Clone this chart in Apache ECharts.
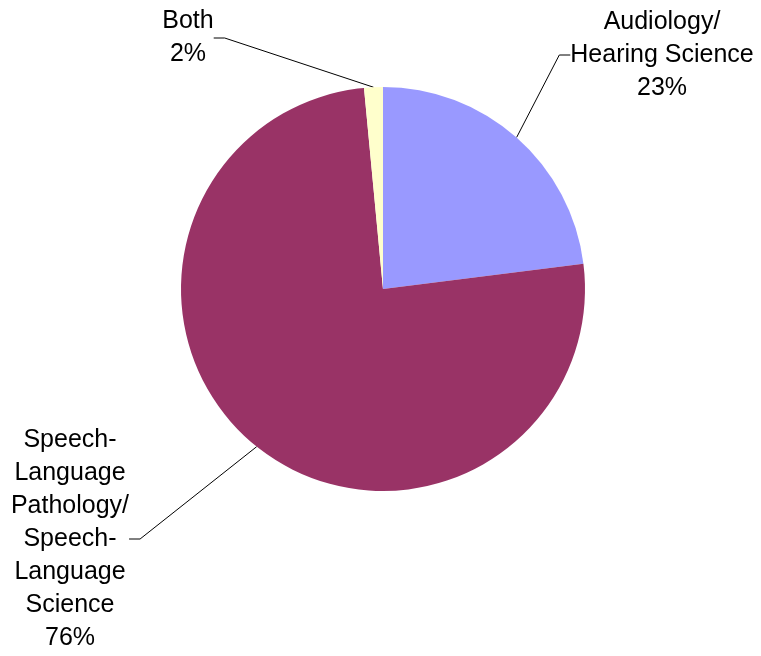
<!DOCTYPE html>
<html>
<head>
<meta charset="utf-8">
<script src="https://cdn.jsdelivr.net/npm/echarts@6/dist/echarts.min.js"></script>
<style>html,body{margin:0;padding:0;background:#fff;}#c{width:761px;height:656px;}</style>
</head>
<body>
<div id="c"></div>
<script>
var categories = ['Audiology/\nHearing Science', 'Speech-\nLanguage\nPathology/\nSpeech-\nLanguage\nScience', 'Both'];
var shares = [23, 75.5, 1.5];
var colors = ['#9999FF', '#993366', '#FFFFCC'];
var labelCenters = [[662, 55], [70, 539], [188, 38]];

var chart = echarts.init(document.getElementById('c'), null, {renderer: 'canvas'});
chart.setOption({
  backgroundColor: '#ffffff',
  animation: false,
  series: [{
    type: 'pie',
    center: [383, 289],
    radius: 202,
    startAngle: 90,
    clockwise: true,
    avoidLabelOverlap: false,
    data: categories.map(function (n, i) {
      return { name: n, value: shares[i], itemStyle: { color: colors[i] } };
    }),
    itemStyle: { borderWidth: 0 },
    label: {
      show: true,
      position: 'outside',
      color: '#000',
      fontFamily: 'Liberation Sans, Arial, sans-serif',
      fontSize: 25,
      lineHeight: 33,
      align: 'center',
      formatter: function (p) { return p.name + '\n' + Math.round(p.value) + '%'; }
    },
    labelLine: {
      show: true,
      length: 10,
      length2: 11,
      smooth: false,
      minTurnAngle: 0,
      lineStyle: { color: '#000', width: 1 }
    },
    labelLayout: function (params) {
      var c = labelCenters[params.dataIndex];
      return { x: c[0], y: c[1], align: 'center', verticalAlign: 'middle' };
    },
    emphasis: { disabled: true }
  }]
});
</script>
</body>
</html>
